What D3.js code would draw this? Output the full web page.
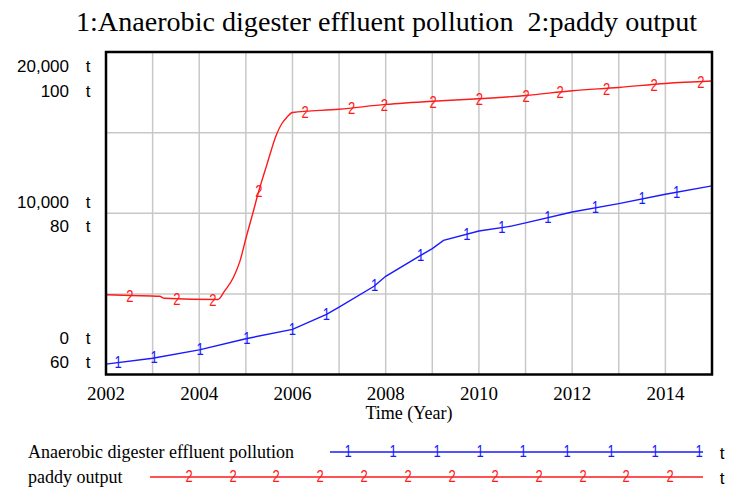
<!DOCTYPE html>
<html>
<head>
<meta charset="utf-8">
<script src="https://cdn.jsdelivr.net/npm/d3@7"></script>
<style>
  html, body { margin: 0; padding: 0; background: #ffffff; }
  svg { display: block; }
</style>
</head>
<body>
<svg id="chart" width="734" height="488"></svg>
<script>
// ---------- data ----------
const titleText = "1:Anaerobic digester effluent pollution  2:paddy output";
const seriesNames = ["Anaerobic digester effluent pollution", "paddy output"];
const unitLabel = "t";
const xAxisTitle = "Time (Year)";

const xTickLabels = [2002, 2004, 2006, 2008, 2010, 2012, 2014];
const xGridYears = [2003, 2004, 2005, 2006, 2007, 2008, 2009, 2010, 2011, 2012, 2013, 2014];

const yTicks1 = [0, 10000, 20000];
const yTicks2 = [60, 80, 100];

const pollutionYears = [2002, 2003, 2004, 2005, 2006, 2006.73, 2007, 2007.75, 2008, 2008.75, 2009, 2009.24, 2010, 2010.67, 2011, 2012, 2013, 2014, 2015];
const pollutionValues = [640, 1010, 1530, 2220, 2800, 3730, 4180, 5470, 6090, 7390, 7810, 8320, 8900, 9190, 9400, 10080, 10600, 11180, 11700];

const paddyYears = [2002, 2002.55, 2003.15, 2003.25, 2004.4, 2004.55, 2004.73, 2004.87, 2005.02, 2005.15, 2005.27, 2005.45, 2005.66, 2005.77, 2005.88, 2006, 2007, 2008, 2009, 2010, 2011, 2012, 2013, 2014, 2015];
const paddyValues = [69.9, 69.8, 69.7, 69.45, 69.3, 70.4, 72.0, 74.0, 77.3, 80.0, 82.6, 86.0, 89.8, 91.1, 91.9, 92.5, 92.9, 93.5, 93.9, 94.2, 94.6, 95.2, 95.6, 96.1, 96.4];

const markerYears1 = [2002.26, 2003.03, 2004.02, 2005.02, 2006.0, 2006.73, 2007.76, 2008.75, 2009.74, 2010.49, 2011.48, 2012.5, 2013.5, 2014.24];
const markerYears2 = [2002.51, 2003.52, 2004.29, 2005.28, 2006.27, 2007.27, 2007.97, 2009.02, 2010.01, 2011.01, 2011.74, 2012.74, 2013.76, 2014.76];

const legendMarks1 = [348, 393, 437, 480, 523, 567, 611, 655, 699];
const legendMarks2 = [189, 233, 276, 320, 364, 408, 452, 495, 539, 583, 626, 670];

// ---------- layout ----------
const plot = { left: 106, right: 712, top: 52, bottom: 374.5 };
const blue = "#1a1aff";
const red = "#ff1a1a";
const serif = "'Liberation Serif', 'Times New Roman', serif";
const sans = "'Liberation Sans', Arial, sans-serif";

const svg = d3.select("#chart");

const x = d3.scaleLinear().domain([2002, 2015]).range([plot.left, plot.right]);
const y1 = d3.scaleLinear().domain([0, 20000]).range([plot.bottom, plot.top]);
const y2 = d3.scaleLinear().domain([60, 100]).range([plot.bottom, plot.top]);

// title
svg.append("text")
  .attr("x", 76).attr("y", 31)
  .style("white-space", "pre")
  .attr("font-family", serif).attr("font-size", 27)
  .attr("textLength", 621).attr("lengthAdjust", "spacingAndGlyphs")
  .attr("fill", "#000")
  .text(titleText);

// gridlines
const grid = svg.append("g").attr("stroke", "#c8c8c8").attr("stroke-width", 1.5);
grid.selectAll("line.v").data(xGridYears).join("line")
  .attr("x1", d => x(d)).attr("x2", d => x(d))
  .attr("y1", plot.top).attr("y2", plot.bottom);
grid.selectAll("line.h").data([5000, 10000, 15000]).join("line")
  .attr("x1", plot.left).attr("x2", plot.right)
  .attr("y1", d => y1(d)).attr("y2", d => y1(d));

// lines
const line1 = d3.line().x((d, i) => x(pollutionYears[i])).y(d => y1(d));
const line2 = d3.line().curve(d3.curveMonotoneX).x((d, i) => x(paddyYears[i])).y(d => y2(d));

svg.append("defs").append("clipPath").attr("id", "clip")
  .append("rect").attr("x", plot.left).attr("y", plot.top)
  .attr("width", plot.right - plot.left).attr("height", plot.bottom - plot.top);

const lines = svg.append("g").attr("clip-path", "url(#clip)");
lines.append("path").attr("d", line2(paddyValues))
  .attr("fill", "none").attr("stroke", red).attr("stroke-width", 1.4);
lines.append("path").attr("d", line1(pollutionValues))
  .attr("fill", "none").attr("stroke", blue).attr("stroke-width", 1.4);

function interp(xs, ys, t) {
  return d3.scaleLinear().domain(xs).range(ys)(t);
}

// markers
function marker(g, px, py, ch, color) {
  g.append("text")
    .attr("transform", `translate(${px},${py}) scale(1,1.25)`)
    .attr("text-anchor", "middle")
    .attr("dominant-baseline", "central")
    .attr("font-family", sans).attr("font-size", 13)
    .attr("fill", color)
    .text(ch);
}
const mk = svg.append("g");
markerYears2.forEach(t => marker(mk, x(t), y2(interp(paddyYears, paddyValues, t)) + 1, "2", red));
markerYears1.forEach(t => marker(mk, x(t), y1(interp(pollutionYears, pollutionValues, t)), "1", blue));

// border
svg.append("rect")
  .attr("x", plot.left).attr("y", plot.top)
  .attr("width", plot.right - plot.left).attr("height", plot.bottom - plot.top)
  .attr("fill", "none").attr("stroke", "#000").attr("stroke-width", 2.5);

// x axis labels
svg.append("g").selectAll("text").data(xTickLabels).join("text")
  .attr("x", d => x(d)).attr("y", 400)
  .attr("text-anchor", "middle")
  .attr("font-family", serif).attr("font-size", 19)
  .attr("fill", "#000")
  .text(d => d);

svg.append("text")
  .attr("x", (plot.left + plot.right) / 2).attr("y", 419)
  .attr("text-anchor", "middle")
  .attr("font-family", serif).attr("font-size", 18)
  .attr("fill", "#000")
  .text(xAxisTitle);

// y axis labels (stacked pairs)
const fmt = d3.format(",");
const yl = svg.append("g").attr("font-family", sans).attr("font-size", 17).attr("fill", "#000");
yTicks1.forEach((v, i) => {
  const base = y1(v);
  let center = base + 1;
  if (i === yTicks1.length - 1) center = base + 27;
  if (i === 0) center = base - 24;
  const rows = [fmt(v), fmt(yTicks2[i])];
  rows.forEach((lab, j) => {
    const yy = center + (j === 0 ? -12.2 : 12.2);
    yl.append("text").attr("x", 69).attr("y", yy)
      .attr("text-anchor", "end").attr("dominant-baseline", "central").text(lab);
    yl.append("text").attr("x", 88).attr("y", yy)
      .attr("text-anchor", "middle").attr("dominant-baseline", "central").text(unitLabel);
  });
});

// legend
const lg = svg.append("g");
const legRows = [
  { name: seriesNames[0], y: 452, x0: 330, color: blue, ch: "1", marks: legendMarks1 },
  { name: seriesNames[1], y: 477, x0: 150, color: red, ch: "2", marks: legendMarks2 }
];
legRows.forEach(r => {
  lg.append("text").attr("x", 28).attr("y", r.y)
    .attr("dominant-baseline", "central")
    .attr("font-family", serif).attr("font-size", 18).attr("fill", "#000")
    .text(r.name);
  lg.append("line").attr("x1", r.x0).attr("x2", 703)
    .attr("y1", r.y).attr("y2", r.y)
    .attr("stroke", r.color).attr("stroke-width", 1.4);
  r.marks.forEach(mx => marker(lg, mx, r.y - 1, r.ch, r.color));
  lg.append("text").attr("x", 722).attr("y", r.y + 1)
    .attr("text-anchor", "middle").attr("dominant-baseline", "central")
    .attr("font-family", sans).attr("font-size", 17).attr("fill", "#000")
    .text(unitLabel);
});
</script>
</body>
</html>
